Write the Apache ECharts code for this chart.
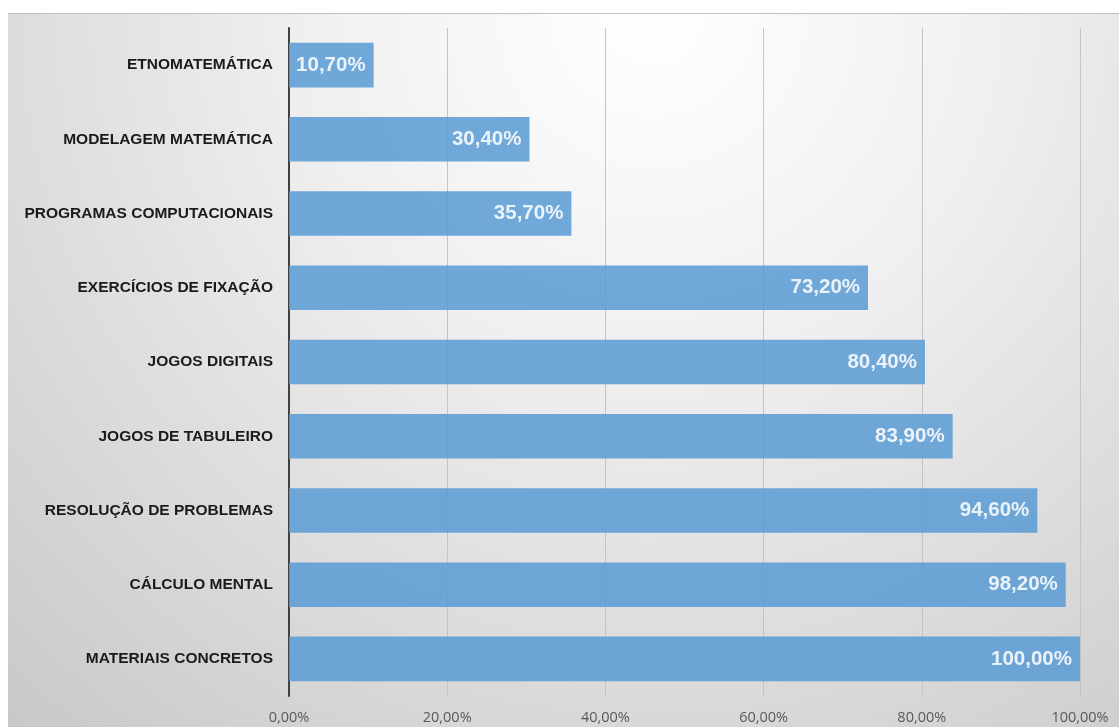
<!DOCTYPE html>
<html>
<head>
<meta charset="utf-8">
<script src="https://cdn.jsdelivr.net/npm/echarts@6/dist/echarts.min.js"></script>
<style>
  html, body { margin: 0; padding: 0; background: #fff; }
  #myChart { width: 1119px; height: 727px; }
</style>
</head>
<body>
<div id="myChart"></div>
<script>
// categorias, de cima para baixo
const categories = [
  'ETNOMATEMÁTICA',
  'MODELAGEM MATEMÁTICA',
  'PROGRAMAS COMPUTACIONAIS',
  'EXERCÍCIOS DE FIXAÇÃO',
  'JOGOS DIGITAIS',
  'JOGOS DE TABULEIRO',
  'RESOLUÇÃO DE PROBLEMAS',
  'CÁLCULO MENTAL',
  'MATERIAIS CONCRETOS',
];
const values = [10.7, 30.4, 35.7, 73.2, 80.4, 83.9, 94.6, 98.2, 100];
const xTicks = [0, 20, 40, 60, 80, 100];

const fmt = (v) => `${v.toFixed(2).replace('.', ',')}%`;

const myChart = echarts.init(document.getElementById('myChart'));
myChart.setOption({
  animation: false,
  graphic: [
    {
      type: 'rect',
      silent: true,
      z: -10,
      shape: { x: 8, y: 13, width: 1111, height: 714 },
      style: {
        fill: {
          type: 'radial',
          x: 0.58,
          y: 0.0,
          r: 1.35,
          colorStops: [
            { offset: 0, color: '#ffffff' },
            { offset: 0.35, color: '#f0f0f0' },
            { offset: 1, color: '#c8c8c8' },
          ],
        },
      },
    },
    {
      type: 'line',
      silent: true,
      z: -9,
      shape: { x1: 8, y1: 13.5, x2: 1119, y2: 13.5 },
      style: { stroke: '#c0c0c0', lineWidth: 1 },
    },
  ],
  grid: {
    left: 289,
    right: 39,
    top: 28,
    bottom: 31,
  },
  xAxis: {
    type: 'value',
    min: 0,
    max: 100,
    interval: 20,
    axisLine: { show: false },
    axisTick: { show: false },
    splitLine: {
      show: true,
      lineStyle: { color: '#c4c4c4', width: 1 },
    },
    axisLabel: {
      margin: 14,
      color: '#595959',
      fontFamily: 'Open Sans',
      fontSize: 14.5,
      formatter(v) {
        return xTicks.includes(v) ? fmt(v) : '';
      },
    },
  },
  yAxis: {
    type: 'category',
    inverse: true,
    data: categories,
    axisLine: {
      show: true,
      lineStyle: { color: '#404040', width: 2 },
    },
    axisTick: { show: false },
    axisLabel: {
      margin: 16,
      color: '#1a1a1a',
      fontFamily: 'Arial, "Liberation Sans"',
      fontWeight: 'bold',
      fontSize: 15.5,
    },
  },
  series: [
    {
      type: 'bar',
      data: values,
      barWidth: '60%',
      itemStyle: {
        color: '#5b9bd5',
        opacity: 0.86,
      },
      label: {
        show: true,
        position: 'insideRight',
        distance: 8,
        color: '#ffffff',
        fontFamily: 'Arial, "Liberation Sans"',
        fontWeight: 'bold',
        fontSize: 20.5,
        formatter(params) {
          return fmt(params.value);
        },
      },
    },
  ],
});
</script>
</body>
</html>
